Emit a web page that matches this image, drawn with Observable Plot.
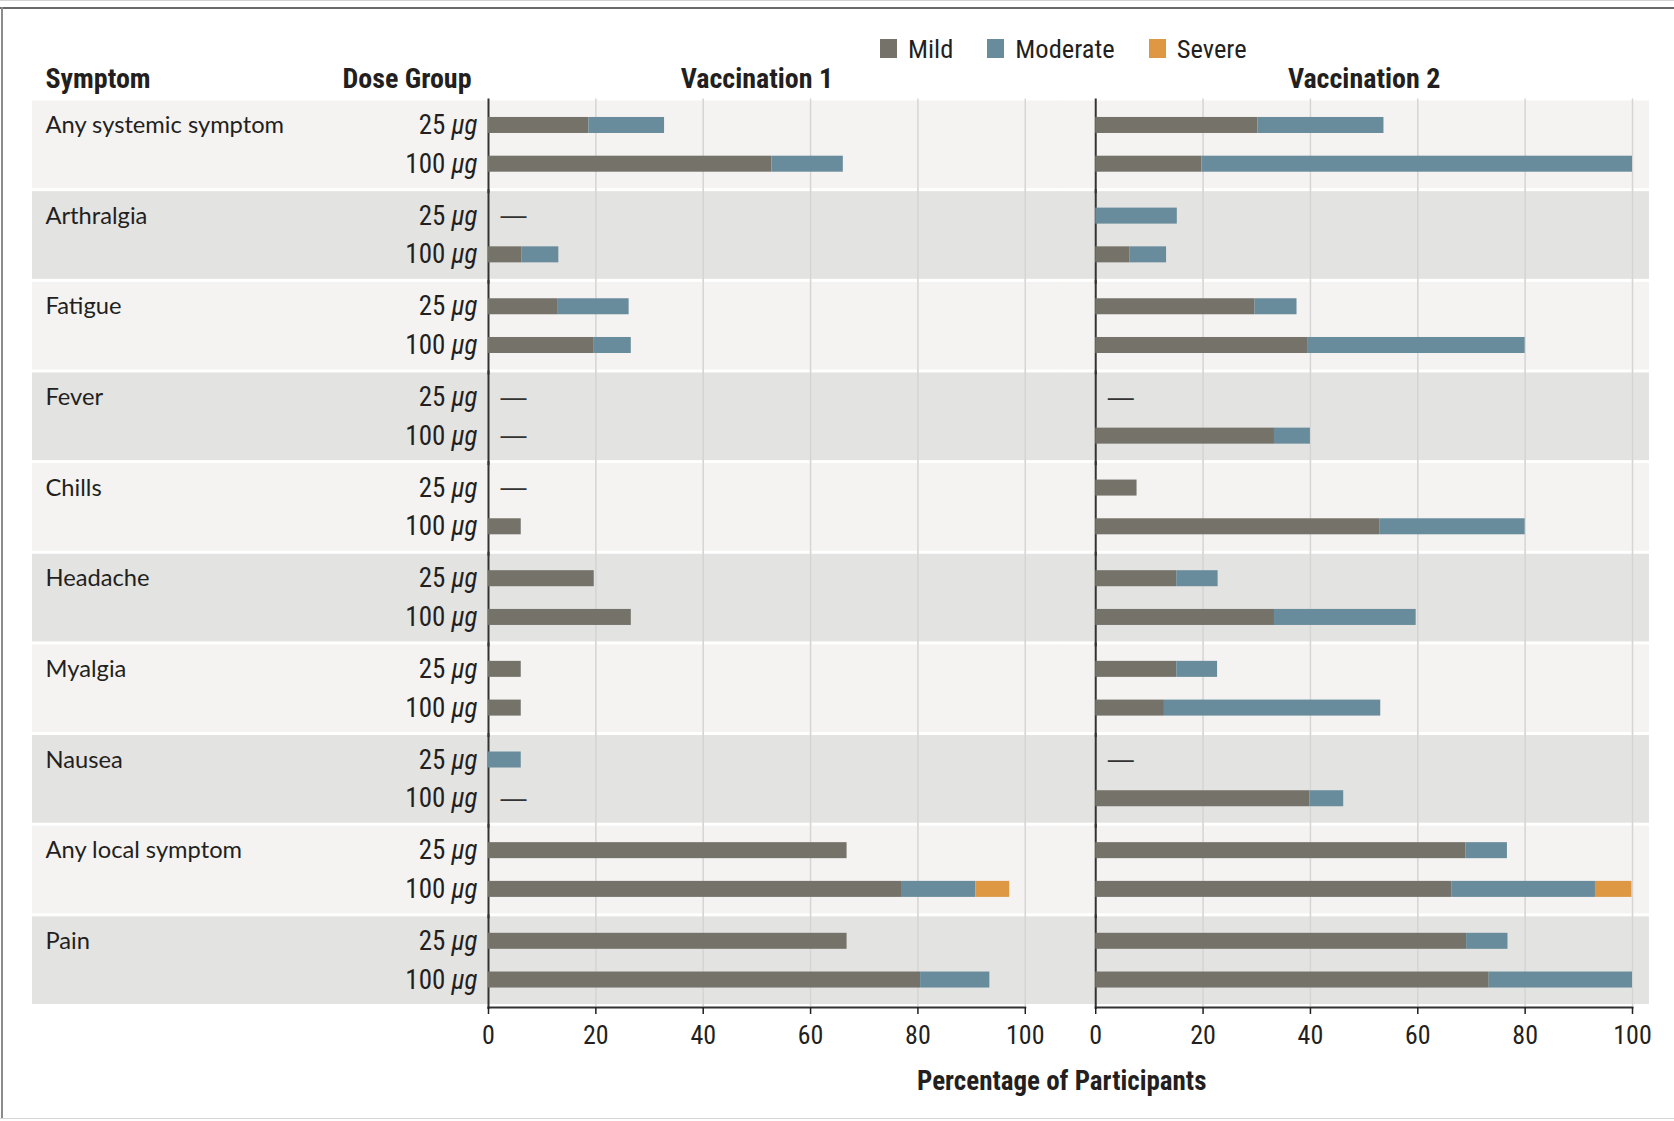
<!DOCTYPE html>
<html lang="en">
<head>
<meta charset="utf-8">
<title>Systemic and local adverse events by dose group</title>
<script src="https://cdn.jsdelivr.net/npm/d3@7"></script>
<script src="https://cdn.jsdelivr.net/npm/@observablehq/plot@0.6"></script>
<style>
  html, body { margin: 0; padding: 0; background: #fff; overflow: hidden; }
  #figure { position: relative; width: 1674px; height: 1121px; }
  #figure svg.chart { position: absolute; left: 0; top: 0; }
  #legend { position: absolute; left: 880px; top: 32px; z-index: 2; }
  .severity-swatch { margin-right: 34px !important; }
  .severity-swatch > svg { margin-right: 11px !important; }
  svg.chart [aria-label="fx-axis tick label"] { font-weight: bold; }
  .edge { position: absolute; z-index: 3; }
</style>
</head>
<body>
<div id="figure">
  <div class="edge" style="left:0;top:0;width:1674px;height:1px;background:#d2d2d2"></div>
  <div class="edge" style="left:0;top:7px;width:1674px;height:2px;background:#6a6a6a"></div>
  <div class="edge" style="left:1px;top:7px;width:2px;height:1112px;background:#8c8c8c"></div>
  <div class="edge" style="left:0;top:1118px;width:1674px;height:1px;background:#d5d5d5"></div>
</div>
<script>
const symptoms = ["Any systemic symptom", "Arthralgia", "Fatigue", "Fever", "Chills", "Headache", "Myalgia", "Nausea", "Any local symptom", "Pain"];
const doses = ["25 µg", "100 µg"];
const vaccinations = ["Vaccination 1", "Vaccination 2"];
const severities = ["Mild", "Moderate", "Severe"];
const severityColors = ["#75726a", "#688c9b", "#de9743"];
const xTicks = [0, 20, 40, 60, 80, 100];
const columnHeaders = ["Symptom", "Dose Group"];
const xLabel = "Percentage of Participants";

// Percentage of participants per symptom as [25 µg, 100 µg]; one array per severity segment
const mildV1 =     [[18.7, 52.8], [0, 6.2], [13.0, 19.7], [0, 0], [0, 6.1], [19.7, 26.6], [6.1, 6.1], [0, 0], [66.8, 77.1], [66.8, 80.5]];
const moderateV1 = [[14.1, 13.3], [0, 6.9], [13.2, 6.9], [0, 0], [0, 0], [0, 0], [0, 0], [6.1, 0], [0, 13.7], [0, 12.9]];
const severeV1 =   [[0, 0], [0, 0], [0, 0], [0, 0], [0, 0], [0, 0], [0, 0], [0, 0], [0, 6.3], [0, 0]];
const mildV2 =     [[30.2, 19.8], [0, 6.4], [29.7, 39.6], [0, 33.3], [7.7, 52.9], [15.1, 33.3], [15.1, 12.8], [0, 39.9], [69.0, 66.4], [69.1, 73.3]];
const moderateV2 = [[23.5, 80.2], [15.2, 6.8], [7.8, 40.4], [0, 6.7], [0, 27.1], [7.7, 26.4], [7.6, 40.3], [0, 6.3], [7.7, 26.7], [7.7, 26.7]];
const severeV2 =   [[0, 0], [0, 0], [0, 0], [0, 0], [0, 0], [0, 0], [0, 0], [0, 0], [0, 6.8], [0, 0]];

const narrow = '"Liberation Sans Narrow", "Arial Narrow", "Roboto Condensed", "Liberation Sans", sans-serif';
const humanist = 'Lato, "Open Sans", sans-serif';
const ink = "#231f20";

const bySeverity = {
  "Vaccination 1": {Mild: mildV1, Moderate: moderateV1, Severe: severeV1},
  "Vaccination 2": {Mild: mildV2, Moderate: moderateV2, Severe: severeV2}
};

// Long table: one row per stacked segment
const segments = [];
const groups = [];
for (const vacc of vaccinations) {
  symptoms.forEach((symptom, i) => {
    doses.forEach((dose, j) => {
      let total = 0;
      for (const severity of severities) {
        const value = bySeverity[vacc][severity][i][j];
        total += value;
        segments.push({vacc, symptom, dose, severity, value});
      }
      groups.push({vacc, symptom, dose, total});
    });
  });
}
const noEvents = groups.filter(d => d.total === 0);

// Alternating shaded row bands
const bandRows = symptoms.flatMap((symptom, i) =>
  vaccinations.map(vacc => ({symptom, vacc, shade: i % 2 ? "dark" : "light"})));
const shadeFill = {light: "#f4f3f2", dark: "#e3e3e2"};
const bandInsets = {
  "Vaccination 1": {insetLeft: -456, insetRight: -36},
  "Vaccination 2": {insetLeft: -35, insetRight: -17}
};
const bandMarks = vaccinations.flatMap(vacc => ["light", "dark"].map(shade =>
  Plot.rect(bandRows, {
    filter: d => d.vacc === vacc && d.shade === shade,
    fx: "vacc", fy: "symptom",
    fill: shadeFill[shade],
    ...bandInsets[vacc]
  })));

const labelRows = symptoms.map(symptom => ({symptom, vacc: vaccinations[0], dose: doses[0]}));
const headerRow = [{symptom: symptoms[0], vacc: vaccinations[0]}];
const footerRow = [{symptom: symptoms[symptoms.length - 1], vacc: vaccinations[1]}];

const chart = Plot.plot({
  className: "chart",
  width: 1674,
  height: 1121,
  marginLeft: 488,
  marginRight: 42,
  marginTop: 100.5,
  marginBottom: 117,
  style: {fontFamily: narrow, color: ink, background: "transparent", overflow: "visible"},
  x: {domain: [0, 100], label: null},
  y: {domain: doses, paddingInner: 0.5866, paddingOuter: 0.4251, round: false, label: null},
  fx: {domain: vaccinations, paddingInner: 0.116, paddingOuter: 0, round: false, label: null},
  fy: {domain: symptoms, paddingInner: 0.033, paddingOuter: 0, round: false, axis: null, label: null},
  color: {domain: severities, range: severityColors},
  marks: [
    ...bandMarks,
    Plot.ruleX(xTicks.slice(1), {stroke: "#d5d5d5", strokeWidth: 1.5, insetTop: -2, insetBottom: -2}),
    Plot.ruleX([0], {stroke: "#333", strokeWidth: 2, insetTop: -2, insetBottom: -5}),
    Plot.barX(segments.filter(d => d.value > 0), {
      x: "value", y: "dose", fx: "vacc", fy: "symptom", fill: "severity"
    }),
    Plot.text(noEvents, {
      x: "total", y: "dose", fx: "vacc", fy: "symptom",
      text: () => "—", textAnchor: "start", dx: 12,
      fontFamily: '"Liberation Sans", sans-serif', fontSize: 26, fill: "#333"
    }),
    Plot.frame({anchor: "bottom", facetAnchor: "bottom", stroke: "#333", strokeWidth: 2, dy: 3}),
    Plot.axisX({ticks: xTicks, tickSize: 7, tickPadding: 11, fontSize: 26, strokeWidth: 1.5, label: null, dy: 3}),
    Plot.axisY({tickSize: 0, tickPadding: 11, fontSize: 27, label: null}),
    Plot.axisFx({anchor: "top", tickSize: 0, tickPadding: 13, fontSize: 28, fontWeight: "bold", label: null}),
    Plot.text(labelRows, {
      y: "dose", fx: "vacc", fy: "symptom", text: "symptom",
      frameAnchor: "left", textAnchor: "start", dx: -443,
      fontFamily: humanist, fontSize: 23.7
    }),
    Plot.text(headerRow, {
      fx: "vacc", fy: "symptom", text: () => columnHeaders[0],
      frameAnchor: "top-left", textAnchor: "start", lineAnchor: "bottom",
      dx: -443, dy: -13, fontSize: 28, fontWeight: "bold"
    }),
    Plot.text(headerRow, {
      fx: "vacc", fy: "symptom", text: () => columnHeaders[1],
      frameAnchor: "top-left", textAnchor: "end", lineAnchor: "bottom",
      dx: -17, dy: -13, fontSize: 28, fontWeight: "bold"
    }),
    Plot.text(footerRow, {
      fx: "vacc", fy: "symptom", text: () => xLabel,
      frameAnchor: "bottom-left", textAnchor: "middle",
      dx: -34, dy: 85, fontSize: 27, fontWeight: "bold"
    })
  ]
});

// Set the unit of each dose label in italics
chart.querySelectorAll('[aria-label="y-axis tick label"] text').forEach(t => {
  const m = /^(.*\S)\s+(µg)$/.exec(t.textContent);
  if (!m) return;
  t.textContent = m[1] + " ";
  const unit = document.createElementNS("http://www.w3.org/2000/svg", "tspan");
  unit.setAttribute("font-style", "italic");
  unit.textContent = m[2];
  t.appendChild(unit);
});

const figure = document.getElementById("figure");
figure.prepend(chart);

const legend = Plot.legend({
  color: {domain: severities, range: severityColors},
  legend: "swatches",
  className: "severity",
  swatchWidth: 17,
  swatchHeight: 19,
  style: {fontFamily: narrow, fontSize: "26.5px", color: ink}
});
legend.id = "legend";
figure.appendChild(legend);
</script>
</body>
</html>
